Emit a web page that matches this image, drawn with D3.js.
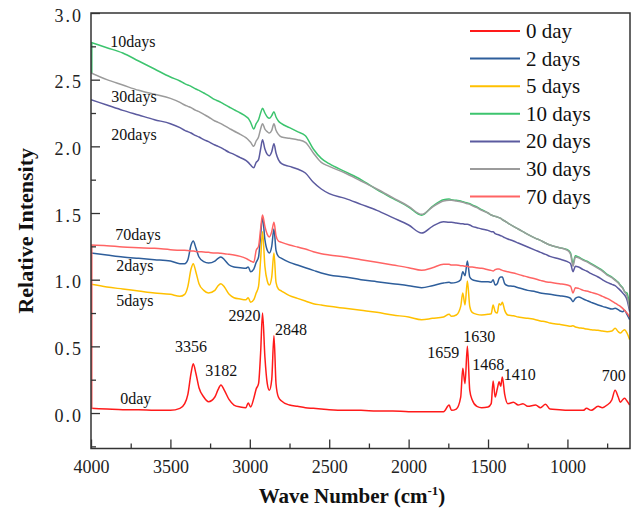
<!DOCTYPE html>
<html>
<head>
<meta charset="utf-8">
<script src="https://cdn.jsdelivr.net/npm/d3@7/dist/d3.min.js"></script>
<style>
  html, body { margin: 0; padding: 0; background: #fff; }
  svg { display: block; }
  text { font-family: "Liberation Serif", "Times New Roman", serif; }
</style>
</head>
<body>
<svg id="chart" width="634" height="515"></svg>
<script>
// ---------------- DATA ----------------
const waveNumbers = [4000,3900,3800,3700,3600,3500,3440,3410,3390,3370,3356,3340,3320,3290,3260,3220,3200,3182,3160,3130,3100,3060,3025,3010,2995,2975,2960,2945,2932,2920,2905,2890,2877,2862,2848,2835,2820,2800,2750,2700,2650,2600,2550,2500,2400,2300,2200,2100,2000,1918,1850,1780,1745,1730,1700,1672,1659,1645,1630,1615,1600,1570,1540,1500,1480,1468,1455,1442,1430,1420,1410,1395,1375,1340,1310,1280,1250,1200,1170,1138,1110,1050,1000,980,965,950,930,900,880,850,807,780,750,720,700,680,667,652,640,625,608];

const day0 = [0.035,0.03,0.025,0.025,0.02,0.02,0.035,0.07,0.14,0.30,0.37,0.30,0.19,0.12,0.085,0.12,0.175,0.21,0.17,0.10,0.06,0.045,0.04,0.075,0.045,0.11,0.18,0.22,0.45,0.75,0.42,0.22,0.17,0.25,0.58,0.22,0.12,0.09,0.06,0.05,0.04,0.035,0.03,0.025,0.02,0.02,0.015,0.015,0.01,0.01,0.01,0.01,0.06,0.02,0.03,0.12,0.335,0.22,0.50,0.17,0.10,0.05,0.04,0.045,0.07,0.24,0.12,0.18,0.235,0.20,0.27,0.14,0.07,0.08,0.06,0.07,0.05,0.06,0.04,0.065,0.03,0.025,0.02,0.02,0.02,0.02,0.02,0.02,0.035,0.02,0.05,0.04,0.06,0.10,0.17,0.12,0.08,0.10,0.11,0.09,0.06];

const days2 = [1.20,1.185,1.17,1.16,1.15,1.14,1.12,1.12,1.15,1.26,1.29,1.24,1.17,1.135,1.125,1.14,1.16,1.17,1.15,1.11,1.095,1.09,1.085,1.095,1.06,1.08,1.13,1.17,1.33,1.47,1.30,1.22,1.20,1.25,1.38,1.22,1.175,1.16,1.13,1.11,1.09,1.07,1.05,1.035,1.02,1.00,0.985,0.97,0.955,0.94,0.955,0.975,0.98,0.975,0.98,1.00,1.06,1.03,1.14,1.02,1.00,0.99,0.985,0.985,0.98,1.00,0.96,0.97,1.01,1.02,1.02,0.97,0.955,0.95,0.94,0.93,0.92,0.91,0.90,0.895,0.89,0.88,0.87,0.86,0.835,0.86,0.87,0.855,0.845,0.83,0.81,0.80,0.79,0.78,0.785,0.775,0.765,0.76,0.77,0.74,0.70];

const days5 = [0.965,0.945,0.93,0.915,0.90,0.89,0.875,0.89,0.95,1.08,1.12,1.06,0.97,0.92,0.90,0.92,0.955,0.97,0.945,0.89,0.865,0.855,0.85,0.865,0.83,0.85,0.90,0.95,1.15,1.36,1.10,0.99,0.96,1.02,1.20,0.98,0.93,0.915,0.88,0.86,0.84,0.82,0.81,0.80,0.785,0.77,0.755,0.735,0.72,0.70,0.71,0.72,0.74,0.725,0.735,0.80,0.90,0.81,0.99,0.80,0.755,0.74,0.735,0.74,0.745,0.81,0.76,0.75,0.82,0.81,0.83,0.77,0.735,0.73,0.72,0.715,0.71,0.70,0.69,0.685,0.675,0.665,0.655,0.65,0.655,0.645,0.64,0.635,0.63,0.625,0.62,0.615,0.61,0.615,0.635,0.61,0.60,0.615,0.625,0.60,0.55];

const days10 = [2.78,2.74,2.70,2.64,2.58,2.52,2.49,2.47,2.46,2.45,2.44,2.43,2.42,2.40,2.38,2.35,2.34,2.33,2.315,2.295,2.275,2.25,2.225,2.21,2.18,2.13,2.17,2.20,2.25,2.285,2.25,2.22,2.21,2.23,2.26,2.22,2.19,2.17,2.14,2.11,2.08,1.98,1.91,1.87,1.81,1.75,1.675,1.61,1.545,1.484,1.55,1.60,1.605,1.60,1.595,1.59,1.585,1.58,1.575,1.57,1.56,1.545,1.525,1.50,1.485,1.48,1.475,1.47,1.465,1.46,1.45,1.44,1.425,1.40,1.38,1.36,1.34,1.31,1.295,1.275,1.26,1.24,1.225,1.20,1.12,1.18,1.17,1.15,1.14,1.12,1.09,1.07,1.04,1.02,1.00,0.98,0.96,0.94,0.91,0.90,0.80];

const days20 = [2.35,2.31,2.27,2.235,2.20,2.17,2.14,2.12,2.11,2.10,2.09,2.08,2.07,2.05,2.035,2.01,2.00,1.99,1.975,1.955,1.94,1.915,1.895,1.88,1.86,1.84,1.88,1.90,1.98,2.05,1.98,1.94,1.93,1.96,2.02,1.95,1.90,1.87,1.85,1.83,1.80,1.73,1.68,1.645,1.61,1.565,1.52,1.465,1.41,1.35,1.40,1.435,1.43,1.43,1.425,1.42,1.42,1.415,1.415,1.41,1.40,1.39,1.38,1.37,1.36,1.36,1.345,1.34,1.335,1.33,1.325,1.315,1.305,1.29,1.275,1.26,1.245,1.22,1.205,1.19,1.175,1.155,1.135,1.12,1.06,1.10,1.095,1.075,1.065,1.045,1.02,1.00,0.98,0.965,0.955,0.935,0.92,0.90,0.885,0.85,0.76];

const days30 = [2.55,2.50,2.46,2.42,2.39,2.36,2.33,2.31,2.30,2.29,2.28,2.27,2.26,2.24,2.22,2.19,2.18,2.17,2.155,2.135,2.115,2.09,2.065,2.05,2.03,2.00,2.04,2.07,2.13,2.17,2.13,2.11,2.10,2.12,2.17,2.12,2.09,2.07,2.06,2.05,2.03,1.95,1.88,1.85,1.80,1.74,1.68,1.615,1.55,1.49,1.545,1.59,1.595,1.595,1.59,1.585,1.58,1.575,1.57,1.565,1.555,1.54,1.52,1.50,1.485,1.48,1.475,1.47,1.465,1.46,1.45,1.44,1.425,1.40,1.38,1.36,1.34,1.31,1.295,1.275,1.26,1.24,1.22,1.19,1.10,1.17,1.165,1.145,1.135,1.115,1.085,1.065,1.035,1.015,0.995,0.975,0.955,0.935,0.91,0.88,0.78];

const days70 = [1.26,1.255,1.245,1.24,1.235,1.225,1.22,1.22,1.218,1.215,1.215,1.212,1.21,1.208,1.205,1.20,1.20,1.198,1.195,1.19,1.185,1.175,1.16,1.15,1.14,1.13,1.22,1.25,1.38,1.485,1.40,1.34,1.32,1.36,1.43,1.33,1.29,1.28,1.26,1.245,1.23,1.21,1.195,1.185,1.17,1.15,1.13,1.11,1.09,1.07,1.09,1.115,1.115,1.11,1.11,1.105,1.105,1.10,1.10,1.095,1.095,1.09,1.085,1.075,1.07,1.065,1.075,1.08,1.08,1.075,1.07,1.065,1.06,1.05,1.04,1.03,1.02,1.005,0.995,0.985,0.98,0.97,0.96,0.95,0.90,0.94,0.935,0.92,0.915,0.905,0.89,0.875,0.86,0.84,0.825,0.81,0.80,0.785,0.77,0.75,0.72];

// value where each trace starts at 4000 cm-1 before jumping to its first point (null = none)
const traceStartValues = [null, null, null, 2.55, null, null, 0.03];

const seriesNames = ["0 day","2 days","5 days","10 days","20 days","30 days","70 days"];
const seriesValues = [day0, days2, days5, days10, days20, days30, days70];

const xTickValues = [4000,3500,3000,2500,2000,1500,1000];
const yTickValues = [0,0.5,1.0,1.5,2.0,2.5,3.0];

// curve annotations (text, wave number, intensity)
const curveLabels = ["10days","30days","20days","70days","2days","5days","0day"];
const curveLabelWave = [3879,3872,3872,3847,3841,3841,3816];
const curveLabelValue = [2.79,2.375,2.09,1.34,1.11,0.847,0.112];

// peak annotations
const peakLabels = ["3356","3182","2920","2848","1659","1630","1468","1410","700"];
const peakLabelWave = [3371,3180,3034,2740,1782,1556,1499,1300,709];
const peakLabelValue = [0.50,0.317,0.73,0.627,0.455,0.577,0.367,0.292,0.28];

// ---------------- STYLE ----------------
const colors = ["#ff1a1a","#2e5e9b","#ffc000","#3cc46e","#5b5a9f","#9b9b9b","#ff6464"];
const plot = {left: 91, top: 13, right: 630, bottom: 448.5};
const serif = "'Liberation Serif', 'Times New Roman', serif";

const svg = d3.select("#chart");

const x = d3.scaleLinear().domain([4000, 606]).range([plot.left, plot.right]);
const y = d3.scaleLinear().domain([-0.266, 3.0]).range([plot.bottom, plot.top]);

svg.append("clipPath").attr("id","clip")
  .append("rect").attr("x", plot.left).attr("y", plot.top)
  .attr("width", plot.right - plot.left).attr("height", plot.bottom - plot.top);

const line = d3.line()
  .x((d) => x(d[0]))
  .y((d) => y(d[1]))
  .curve(d3.curveMonotoneX);

const g = svg.append("g").attr("clip-path","url(#clip)");
seriesValues.forEach((vals, i) => {
  const pts = waveNumbers.map((w, j) => [w, vals[j]]);
  if (traceStartValues[i] !== null) {
    g.append("path")
      .datum([[waveNumbers[0], traceStartValues[i]], pts[0]])
      .attr("d", d3.line().x(d => x(d[0]) + 0.8).y(d => y(d[1])))
      .attr("fill","none").attr("stroke", colors[i]).attr("stroke-width", 1.5);
  }
  g.append("path")
    .datum(pts)
    .attr("d", line)
    .attr("fill","none")
    .attr("stroke", colors[i])
    .attr("stroke-width", 1.5)
    .attr("stroke-linejoin","round");
});

// axes
const axisColor = "#333";
const xMinor = d3.range(4000, 600, -250).filter(v => v % 500 !== 0);
const yMinor = d3.range(-0.25, 3.0, 0.5).map(v => +v.toFixed(2));

const xAxis = svg.append("g").attr("transform", `translate(0,${plot.bottom})`)
  .call(d3.axisBottom(x).tickValues(xTickValues).tickSizeInner(-9).tickSizeOuter(0).tickPadding(12).tickFormat(d3.format("d")));
const xAxisMinor = svg.append("g").attr("transform", `translate(0,${plot.bottom})`)
  .call(d3.axisBottom(x).tickValues(xMinor).tickSizeInner(-5).tickSizeOuter(0).tickFormat(""));
const yAxis = svg.append("g").attr("transform", `translate(${plot.left},0)`)
  .call(d3.axisLeft(y).tickValues(yTickValues).tickSizeInner(-9).tickSizeOuter(0).tickPadding(8).tickFormat(d3.format(".1f")));
const yAxisMinor = svg.append("g").attr("transform", `translate(${plot.left},0)`)
  .call(d3.axisLeft(y).tickValues(yMinor).tickSizeInner(-5).tickSizeOuter(0).tickFormat(""));

[xAxis, xAxisMinor, yAxis, yAxisMinor].forEach(a => {
  a.attr("font-family", serif);
  a.selectAll("path.domain").remove();
  a.selectAll("line").attr("stroke", axisColor).attr("stroke-width", 1.3);
});
xAxis.selectAll("text").attr("font-size", 18).attr("fill", "#222").attr("font-family", serif);
yAxis.selectAll("text").attr("font-size", 18).attr("fill", "#222")
  .attr("letter-spacing", "2px").attr("dy", "0.45em").attr("font-family", serif);

// frame
svg.append("rect")
  .attr("x", plot.left).attr("y", plot.top)
  .attr("width", plot.right - plot.left).attr("height", plot.bottom - plot.top)
  .attr("fill","none").attr("stroke", axisColor).attr("stroke-width", 1.5);

// axis titles
svg.append("text")
  .attr("transform", `translate(25,${(plot.top + plot.bottom)/2}) rotate(-90)`)
  .attr("text-anchor","middle").attr("dominant-baseline","central")
  .attr("font-family", serif)
  .attr("font-size", 22).attr("font-weight","bold").attr("fill","#111")
  .text("Relative Intensity");

const xt = svg.append("text")
  .attr("x", 352).attr("y", 503)
  .attr("text-anchor","middle").attr("font-family", serif)
  .attr("font-size", 21).attr("font-weight","bold").attr("fill","#111");
xt.append("tspan").text("Wave Number (cm");
xt.append("tspan").attr("font-size", 13).attr("dy", -8).text("-1");
xt.append("tspan").attr("dy", 8).text(")");

// curve labels
curveLabels.forEach((t, i) => {
  svg.append("text")
    .attr("x", x(curveLabelWave[i])).attr("y", y(curveLabelValue[i]))
    .attr("dominant-baseline","central").attr("font-family", serif)
    .attr("font-size", 16).attr("fill","#111")
    .text(t);
});

// peak labels
peakLabels.forEach((t, i) => {
  svg.append("text")
    .attr("x", x(peakLabelWave[i])).attr("y", y(peakLabelValue[i]))
    .attr("text-anchor","middle").attr("dominant-baseline","central")
    .attr("font-family", serif)
    .attr("font-size", 16).attr("fill","#111")
    .text(t);
});

// legend
const legend = svg.append("g");
seriesNames.forEach((name, i) => {
  const ly = 31 + i * 27.6;
  legend.append("line")
    .attr("x1", 470).attr("x2", 520).attr("y1", ly).attr("y2", ly)
    .attr("stroke", colors[i]).attr("stroke-width", 2);
  legend.append("text")
    .attr("x", 526).attr("y", ly)
    .attr("dominant-baseline","central").attr("font-family", serif)
    .attr("font-size", 21).attr("fill","#111")
    .text(name);
});
</script>
</body>
</html>
